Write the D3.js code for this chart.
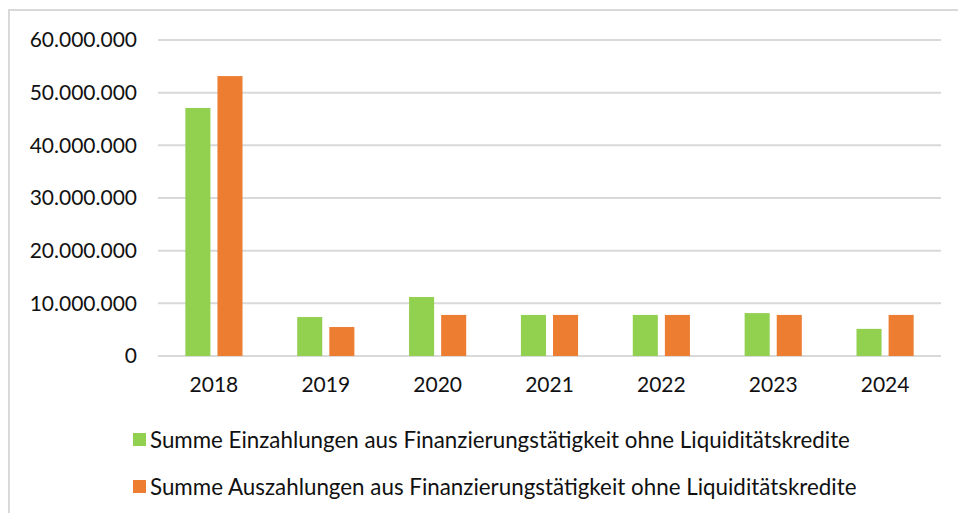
<!DOCTYPE html>
<html><head><meta charset="utf-8">
<script src="https://cdn.jsdelivr.net/npm/d3@7"></script>
<style>body{margin:0;background:#fff}svg{display:block}text{font-family:Lato,"Open Sans",sans-serif;fill:#111}</style>
</head><body><svg id="c" width="958" height="513"></svg>
<script>
const years = ["2018","2019","2020","2021","2022","2023","2024"];
const einzahlungen = [47100000, 7400000, 11200000, 7800000, 7800000, 8150000, 5150000];
const auszahlungen = [53150000, 5500000, 7800000, 7800000, 7800000, 7800000, 7800000];
const yTicks = [0, 10000000, 20000000, 30000000, 40000000, 50000000, 60000000];
const seriesNames = ["Summe Einzahlungen aus Finanzierungstätigkeit ohne Liquiditätskredite",
                     "Summe Auszahlungen aus Finanzierungstätigkeit ohne Liquiditätskredite"];
const colors = ["#92d050", "#ed7d31"];

const svg = d3.select("#c");
// outer chart border (right/bottom fall outside the picture)
svg.append("rect").attr("x",9).attr("y",10).attr("width",1000).attr("height",600)
  .attr("fill","none").attr("stroke","#d9d9d9").attr("stroke-width",2);

const x = d3.scaleBand().domain(years).range([158, 941]).padding(0);
const y = d3.scaleLinear().domain([0, 60000000]).range([356, 40]);
const fmt = v => d3.format(",")(v).replace(/,/g, ".");

// gridlines
svg.append("g").selectAll("line").data(yTicks).join("line")
  .attr("x1",158).attr("x2",941).attr("y1",d=>y(d)).attr("y2",d=>y(d))
  .attr("stroke","#d9d9d9").attr("stroke-width",2);

// y axis labels
const yAxis = d3.axisLeft(y).tickValues(yTicks).tickFormat(fmt).tickSize(0).tickPadding(0);
const gy = svg.append("g").attr("transform","translate(137,0)").call(yAxis);
gy.select(".domain").remove();
gy.selectAll("text").attr("font-size",21).attr("fill","#111").style("font-family","Lato");

// bars
const bw = x.bandwidth()*0.224, gap = x.bandwidth()*0.063;
const data = years.map((yr,i)=>({yr, vals:[einzahlungen[i], auszahlungen[i]]}));
const grp = svg.append("g").selectAll("g").data(data).join("g");
grp.selectAll("rect").data(d=>d.vals.map((v,k)=>({yr:d.yr,v,k}))).join("rect")
  .attr("x", d => x(d.yr) + x.bandwidth()/2 + (d.k===0 ? -gap/2 - bw : gap/2))
  .attr("width", bw)
  .attr("y", d => y(d.v))
  .attr("height", d => y(0) - y(d.v))
  .attr("fill", d => colors[d.k]);

// x axis labels
const xAxis = d3.axisBottom(x).tickSize(0).tickPadding(0);
const gx = svg.append("g").attr("transform","translate(0,377)").call(xAxis);
gx.select(".domain").remove();
gx.selectAll("text").attr("font-size",21).attr("fill","#111").attr("dy","0.71em").style("font-family","Lato");

// legend
const legY = [440, 487];
const targetW = [700, 707];
seriesNames.forEach((name,i)=>{
  svg.append("rect").attr("x",133).attr("y",legY[i]-7).attr("width",13).attr("height",13).attr("fill",colors[i]);
  const t = svg.append("text").attr("x",150).attr("y",legY[i]).attr("dy","0.35em")
    .attr("font-size",20).text(name);
  const len = t.node().getComputedTextLength();
  t.attr("font-size", 20*targetW[i]/len);
});
</script></body></html>
